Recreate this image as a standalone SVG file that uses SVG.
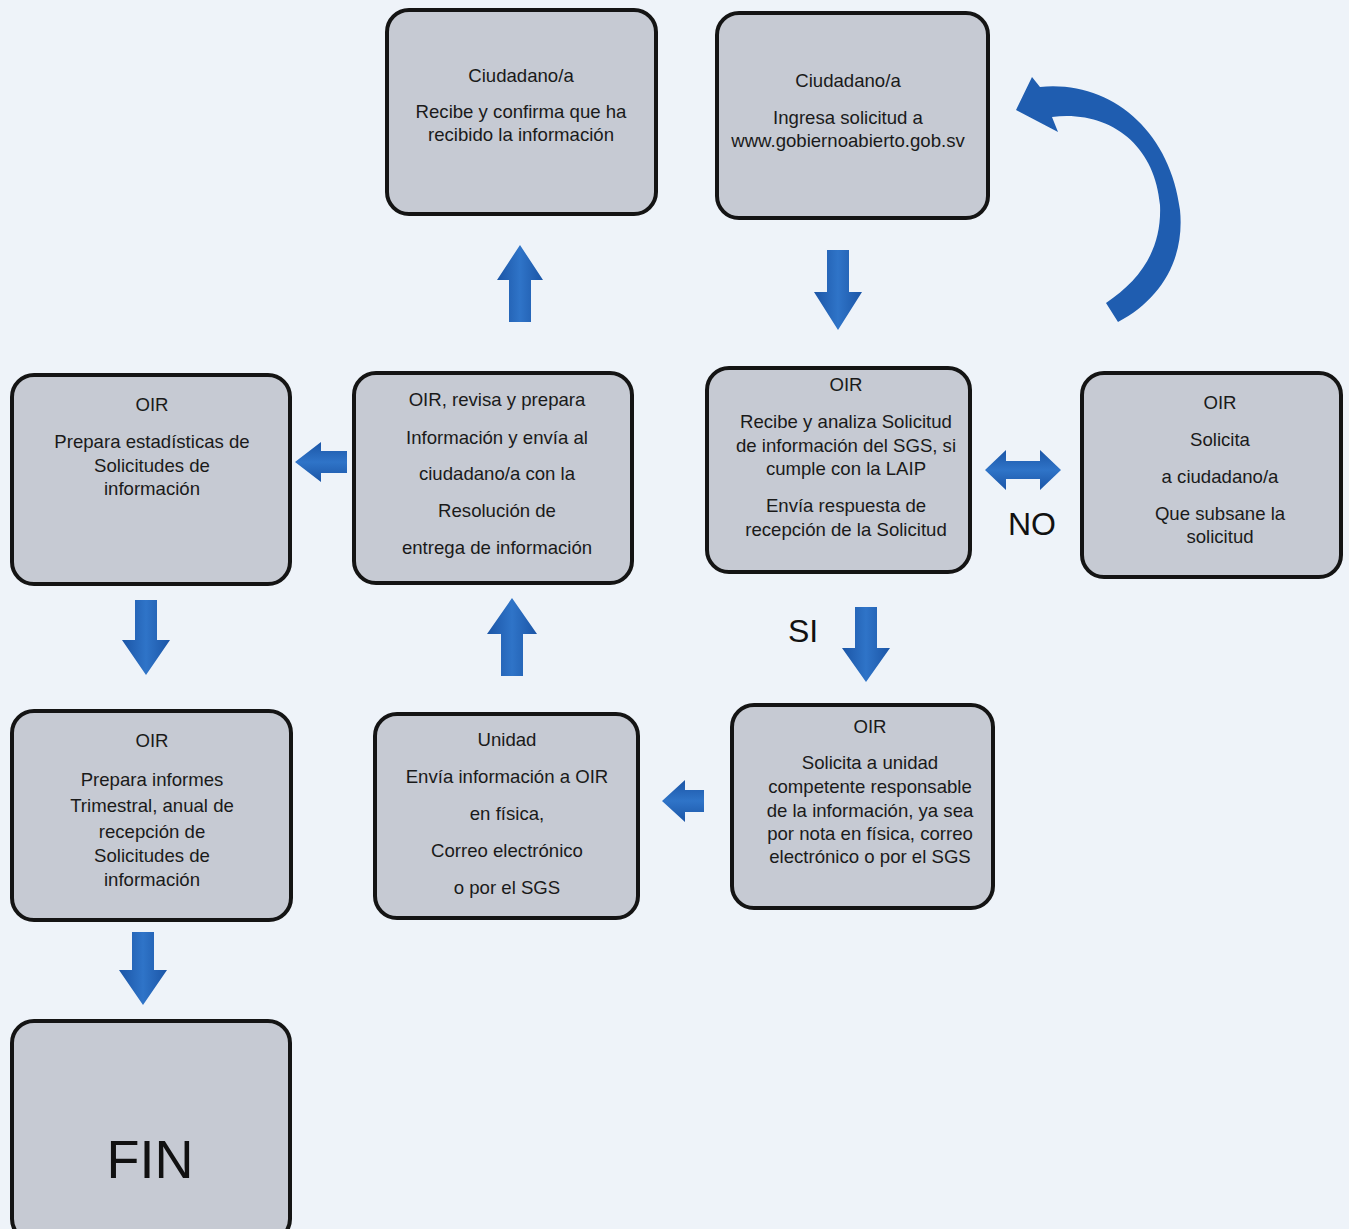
<svg xmlns="http://www.w3.org/2000/svg" width="1349" height="1229" viewBox="0 0 1349 1229">
<defs>
<style>
.box{fill:#c6cad3;stroke:#141414;stroke-width:4}
.t{font-family:"Liberation Sans",Arial,sans-serif;font-size:18.6px;fill:#1a1a1a;text-anchor:middle}
.big{font-family:"Liberation Sans",Arial,sans-serif;fill:#111;text-anchor:middle}
.arr{fill:url(#gv)}
.arrh{fill:url(#gh)}
</style>
<linearGradient id="gv" x1="0" y1="0" x2="1" y2="0">
<stop offset="0" stop-color="#1b55a6"/><stop offset="0.5" stop-color="#2f74c8"/><stop offset="1" stop-color="#1b55a6"/>
</linearGradient>
<linearGradient id="gh" x1="0" y1="0" x2="0" y2="1">
<stop offset="0" stop-color="#1b55a6"/><stop offset="0.5" stop-color="#2f74c8"/><stop offset="1" stop-color="#1b55a6"/>
</linearGradient>
</defs>
<rect x="0" y="0" width="1349" height="1229" fill="#eef3f9"/>

<g id="connectors">
<polygon class="arr" points="509,322 531,322 531,280 543,280 520,245 497,280 509,280"/>
<polygon class="arr" points="827,250 849,250 849,292 862,292 838,330 814,292 827,292"/>
<polygon class="arr" points="501,676 523,676 523,634 537,634 512,598 487,634 501,634"/>
<polygon class="arr" points="855,607 877,607 877,648 890,648 866,682 842,648 855,648"/>
<polygon class="arr" points="135,600 157,600 157,640 170,640 146,675 122,640 135,640"/>
<polygon class="arr" points="132,932 154,932 154,970 167,970 143,1005 119,970 132,970"/>
<polygon class="arrh" points="347,451 347,473 321,473 321,482 295,462 321,442 321,451"/>
<polygon class="arrh" points="704,790 704,812 685,812 685,822 662,801 685,780 685,790"/>
<polygon class="arrh" points="1006,461 1040,461 1040,450 1061,470 1040,490 1040,479 1006,479 1006,490 985,470 1006,450"/>
<path fill="#1f5db0" d="M1040 87 C1110 80 1170 130 1180 210 C1185 260 1160 300 1118 322 L1106 303 C1140 280 1162 250 1160 205 C1155 145 1110 110 1052 117 L1058 132 L1016 110 L1032 77 Z"/>
<text class="big" x="1032" y="535" font-size="32">NO</text>
<text class="big" x="803" y="642" font-size="32">SI</text>
</g>

<g id="n_recibe_confirma">
<rect class="box" x="387" y="10" width="269" height="204" rx="22"/>
<text class="t" x="521" y="82">Ciudadano/a</text>
<text class="t" x="521" y="118">Recibe y confirma que ha</text>
<text class="t" x="521" y="141">recibido la información</text>
</g>

<g id="n_ingresa">
<rect class="box" x="717" y="13" width="271" height="205" rx="22"/>
<text class="t" x="848" y="87">Ciudadano/a</text>
<text class="t" x="848" y="124">Ingresa solicitud a</text>
<text class="t" x="848" y="147">www.gobiernoabierto.gob.sv</text>
</g>

<g id="n_recibe_analiza">
<rect class="box" x="707" y="368" width="263" height="204" rx="22"/>
<text class="t" x="846" y="391">OIR</text>
<text class="t" x="846" y="428">Recibe y analiza Solicitud</text>
<text class="t" x="846" y="452">de información del SGS, si</text>
<text class="t" x="846" y="475">cumple con la LAIP</text>
<text class="t" x="846" y="512">Envía respuesta de</text>
<text class="t" x="846" y="536">recepción de la Solicitud</text>
</g>

<g id="n_subsane">
<rect class="box" x="1082" y="373" width="259" height="204" rx="22"/>
<text class="t" x="1220" y="409">OIR</text>
<text class="t" x="1220" y="446">Solicita</text>
<text class="t" x="1220" y="483">a ciudadano/a</text>
<text class="t" x="1220" y="520">Que subsane la</text>
<text class="t" x="1220" y="543">solicitud</text>
</g>

<g id="n_estadisticas">
<rect class="box" x="12" y="375" width="278" height="209" rx="22"/>
<text class="t" x="152" y="411">OIR</text>
<text class="t" x="152" y="448">Prepara estadísticas de</text>
<text class="t" x="152" y="472">Solicitudes de</text>
<text class="t" x="152" y="495">información</text>
</g>

<g id="n_revisa">
<rect class="box" x="354" y="373" width="278" height="210" rx="22"/>
<text class="t" x="497" y="406">OIR, revisa y prepara</text>
<text class="t" x="497" y="444">Información y envía al</text>
<text class="t" x="497" y="480">ciudadano/a con la</text>
<text class="t" x="497" y="517">Resolución de</text>
<text class="t" x="497" y="554">entrega de información</text>
</g>

<g id="n_informes">
<rect class="box" x="12" y="711" width="279" height="209" rx="22"/>
<text class="t" x="152" y="747">OIR</text>
<text class="t" x="152" y="786">Prepara informes</text>
<text class="t" x="152" y="812">Trimestral, anual de</text>
<text class="t" x="152" y="838">recepción de</text>
<text class="t" x="152" y="862">Solicitudes de</text>
<text class="t" x="152" y="886">información</text>
</g>

<g id="n_unidad">
<rect class="box" x="375" y="714" width="263" height="204" rx="22"/>
<text class="t" x="507" y="746">Unidad</text>
<text class="t" x="507" y="783">Envía información a OIR</text>
<text class="t" x="507" y="820">en física,</text>
<text class="t" x="507" y="857">Correo electrónico</text>
<text class="t" x="507" y="894">o por el SGS</text>
</g>

<g id="n_solicita_unidad">
<rect class="box" x="732" y="705" width="261" height="203" rx="22"/>
<text class="t" x="870" y="733">OIR</text>
<text class="t" x="870" y="769">Solicita a unidad</text>
<text class="t" x="870" y="793">competente responsable</text>
<text class="t" x="870" y="817">de la información, ya sea</text>
<text class="t" x="870" y="840">por nota en física, correo</text>
<text class="t" x="870" y="863">electrónico o por el SGS</text>
</g>

<g id="n_fin">
<rect class="box" x="12" y="1021" width="278" height="220" rx="22"/>
<text class="big" x="150" y="1178" font-size="54">FIN</text>
</g>
</svg>
